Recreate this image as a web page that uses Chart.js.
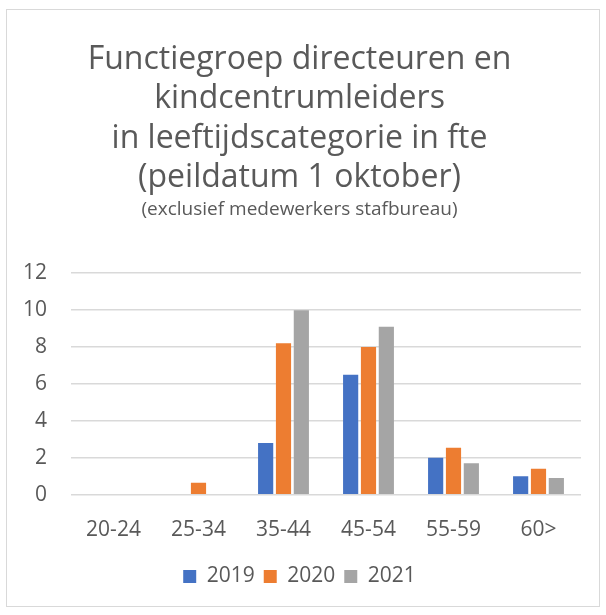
<!DOCTYPE html>
<html>
<head>
<meta charset="utf-8">
<script src="https://cdn.jsdelivr.net/npm/chart.js@4.4.0/dist/chart.umd.min.js"></script>
<style>
    html, body { margin: 0; padding: 0; background: #fff; }
    #frame { position: absolute; left: 6px; top: 9px; width: 594px; height: 598px; border: 1px solid #d9d9d9; box-sizing: border-box; }
    #wrap { position: absolute; left: 0; top: 0; width: 606px; height: 615px; }
</style>
</head>
<body>
<div id="frame"></div>
<div id="wrap"><canvas id="fteChart"></canvas></div>
<script>
const categories = ['20-24', '25-34', '35-44', '45-54', '55-59', '60>'];
const fte2019 = [0, 0, 2.8, 6.5, 2.0, 1.0];
const fte2020 = [0, 0.65, 8.2, 8.0, 2.55, 1.4];
const fte2021 = [0, 0, 10.0, 9.1, 1.7, 0.9];
const yTicks = [0, 2, 4, 6, 8, 10, 12];

const textColor = '#595959';
const fontFamily = '"Open Sans", sans-serif';

document.addEventListener('DOMContentLoaded', function() {
    const ctx = document.getElementById('fteChart').getContext('2d');

    function bars(label, data, color) {
        return {
            label: label,
            data: data,
            backgroundColor: color,
            borderWidth: 0,
            categoryPercentage: 0.63,
            barPercentage: 0.85
        };
    }

    new Chart(ctx, {
        type: 'bar',
        data: {
            labels: categories,
            datasets: [
                bars('2019', fte2019, '#4472C4'),
                bars('2020', fte2020, '#ED7D31'),
                bars('2021', fte2021, '#A5A5A5')
            ]
        },
        options: {
            responsive: true,
            maintainAspectRatio: false,
            animation: false,
            layout: {
                padding: { left: 18, right: 25, top: 0, bottom: 18 }
            },
            scales: {
                x: {
                    grid: { display: false },
                    border: { display: false },
                    ticks: {
                        color: textColor,
                        padding: 24,
                        // short line box keeps the legend close under the labels
                        font: { family: fontFamily, size: 21, lineHeight: 0.3 }
                    }
                },
                y: {
                    min: 0,
                    max: 12,
                    afterBuildTicks: function(scale) {
                        scale.ticks = yTicks.map(v => ({ value: v }));
                    },
                    // fixed axis width so the plot starts at x = 71
                    afterFit: function(scale) {
                        scale.width = 53;
                    },
                    grid: {
                        color: '#d9d9d9',
                        lineWidth: 1.5,
                        drawTicks: false
                    },
                    border: { display: false },
                    ticks: {
                        color: textColor,
                        padding: 24,
                        font: { family: fontFamily, size: 21 }
                    }
                }
            },
            plugins: {
                title: {
                    display: true,
                    text: [
                        'Functiegroep directeuren en',
                        'kindcentrumleiders',
                        'in leeftijdscategorie in fte',
                        '(peildatum 1 oktober)'
                    ],
                    color: textColor,
                    font: { family: fontFamily, size: 32, weight: 'normal', lineHeight: 1.23 },
                    padding: { top: 40, bottom: 1 }
                },
                subtitle: {
                    display: true,
                    text: '(exclusief medewerkers stafbureau)',
                    color: textColor,
                    font: { family: fontFamily, size: 19, lineHeight: 1.2 },
                    padding: { top: 0, bottom: 52 }
                },
                legend: {
                    position: 'bottom',
                    labels: {
                        color: textColor,
                        boxWidth: 13,
                        boxHeight: 13,
                        padding: 9,
                        font: { family: fontFamily, size: 21 }
                    }
                },
                tooltip: { enabled: false }
            }
        }
    });
});
</script>
</body>
</html>
